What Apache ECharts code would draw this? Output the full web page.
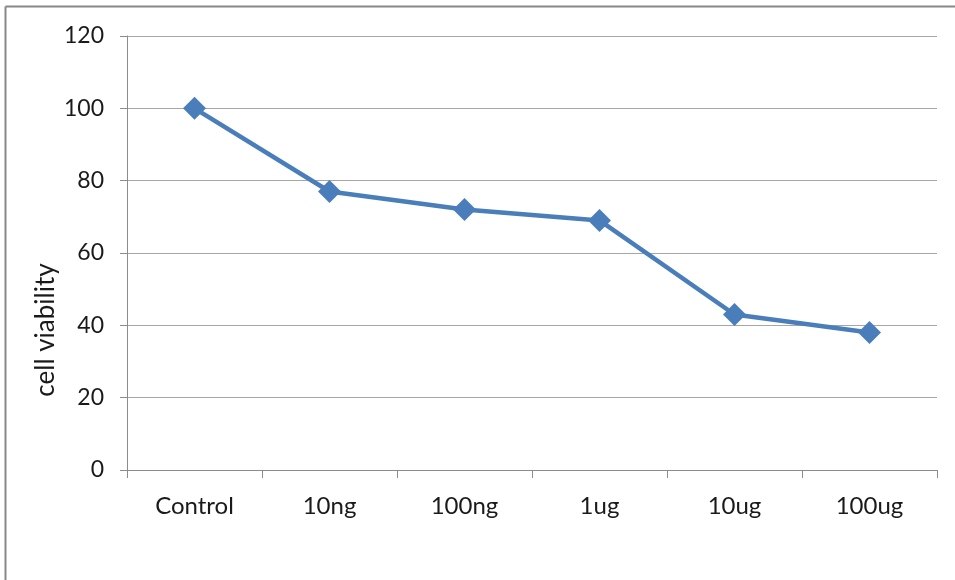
<!DOCTYPE html>
<html>
<head>
<meta charset="utf-8">
<script src="https://cdn.jsdelivr.net/npm/echarts@6/dist/echarts.min.js"></script>
<style>html,body{margin:0;padding:0;background:#fff}#c{width:955px;height:580px}</style>
</head>
<body>
<div id="c"></div>
<script>
var categories = ['Control', '10ng', '100ng', '1ug', '10ug', '100ug'];
var viability = [100, 77, 72, 69, 43, 38];
var yTitle = 'cell viability';

var chart = echarts.init(document.getElementById('c'), null, {renderer: 'canvas'});
chart.setOption({
  animation: false,
  backgroundColor: '#fff',
  grid: {left: 127, right: 18, top: 36, bottom: 110, containLabel: false},
  xAxis: {
    type: 'category',
    data: categories,
    boundaryGap: true,
    axisLine: {lineStyle: {color: '#8c8c8c', width: 1}},
    axisTick: {show: true, length: 8, lineStyle: {color: '#8c8c8c'}},
    axisLabel: {color: '#1a1a1a', fontFamily: 'Lato', fontSize: 24, margin: 24}
  },
  yAxis: {
    type: 'value',
    min: 0, max: 120, interval: 20,
    axisLine: {show: true, lineStyle: {color: '#8c8c8c', width: 1}},
    axisTick: {show: true, length: 7, lineStyle: {color: '#8c8c8c'}},
    splitLine: {show: true, lineStyle: {color: '#a6a6a6', width: 1}},
    axisLabel: {color: '#1a1a1a', fontFamily: 'Lato', fontSize: 23, margin: 23}
  },
  series: [{
    type: 'line',
    data: viability,
    symbol: 'diamond',
    symbolSize: 23,
    lineStyle: {color: '#4a7ebb', width: 4.5},
    itemStyle: {color: '#4a7ebb'}
  }],
  graphic: [
    {type: 'line', shape: {x1: 5.5, y1: 6.5, x2: 955, y2: 6.5}, style: {stroke: '#888', lineWidth: 2}},
    {type: 'line', shape: {x1: 5.5, y1: 6.5, x2: 5.5, y2: 580}, style: {stroke: '#888', lineWidth: 2}},
    {type: 'text', x: 46, y: 330, rotation: Math.PI / 2,
     style: {text: yTitle, fill: '#1a1a1a', fontFamily: 'Lato', fontSize: 26, align: 'center', verticalAlign: 'middle'}}
  ]
});
</script>
</body>
</html>
